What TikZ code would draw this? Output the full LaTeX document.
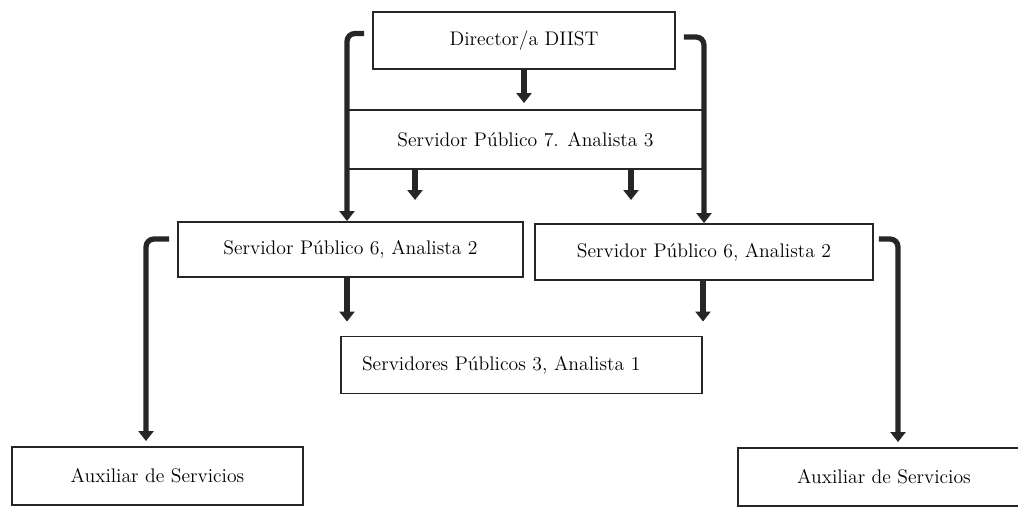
\documentclass[tikz,border=0pt]{standalone}
\usetikzlibrary{arrows.meta,positioning}
\begin{document}
\begin{tikzpicture}[
      caja/.style={rectangle, draw=black!85, line width=1.1pt, inner sep=0pt, font=\fontsize{11.2}{13}\selectfont},
      flecha/.style={draw=black!85, line width=3pt, -{Triangle[width=0.3cm,length=0.2cm]}},
      codo/.style={flecha, rounded corners=0.16cm}]

\clip (0,0) rectangle (20.36,-10.12);

\node[caja, minimum width=6.04cm, minimum height=1.14cm] (dir) at (10.48,-0.81) {Director/a DIIST};
\node[caja, draw=none, minimum width=7.14cm, minimum height=1.14cm] (sp7) at (10.51,-2.79) {Servidor Público 7. Analista 3};
\node[caja, minimum width=6.9cm, minimum height=1.1cm] (sp6a) at (7.01,-4.99) {Servidor Público 6, Analista 2};
\node[caja, minimum width=6.76cm, minimum height=1.12cm] (sp6b) at (14.08,-5.04) {Servidor Público 6, Analista 2};
\node[caja, inner xsep=0.42cm, text width=6.38cm, align=left, minimum height=1.14cm] (sp3) at (10.43,-7.3) {Servidores Públicos 3, Analista 1};
\node[caja, minimum width=5.82cm, minimum height=1.16cm] (auxa) at (3.15,-9.52) {Auxiliar de Servicios};
\node[caja, minimum width=5.84cm, minimum height=1.16cm] (auxb) at (17.68,-9.54) {Auxiliar de Servicios};
\coordinate (b1) at (8.3,-4.0);
\coordinate (b2) at (12.62,-4.0);

\draw[line width=1.1pt, draw=black!85] (sp7.north west) -- (sp7.north east) (sp7.south west) -- (sp7.south east);
\draw[flecha, shorten >=0.14cm] (dir.south) -- (dir.south |- sp7.north);
\draw[flecha] (sp7.south -| b1) -- (b1);
\draw[flecha] (sp7.south -| b2) -- (b2);
\draw[codo] ([xshift=-0.16cm,yshift=0.14cm]dir.west) -| ([xshift=-0.07cm]sp6a.north);
\draw[codo] ([xshift=0.16cm,yshift=0.07cm]dir.east) -| (sp6b.north);
\draw[flecha, shorten >=0.28cm] ([xshift=-0.07cm]sp6a.south) -- ([xshift=-0.07cm]sp6a.south |- sp3.north);
\draw[flecha, shorten >=0.28cm] ([xshift=-0.02cm]sp6b.south) -- ([xshift=-0.02cm]sp6b.south |- sp3.north);
\draw[codo, shorten >=0.1cm] ([xshift=-0.16cm,yshift=0.21cm]sp6a.west) -| ([xshift=-0.23cm]auxa.north);
\draw[codo, shorten >=0.1cm] ([xshift=0.1cm,yshift=0.26cm]sp6b.east) -| ([xshift=0.28cm]auxb.north);

\end{tikzpicture}
\end{document}
